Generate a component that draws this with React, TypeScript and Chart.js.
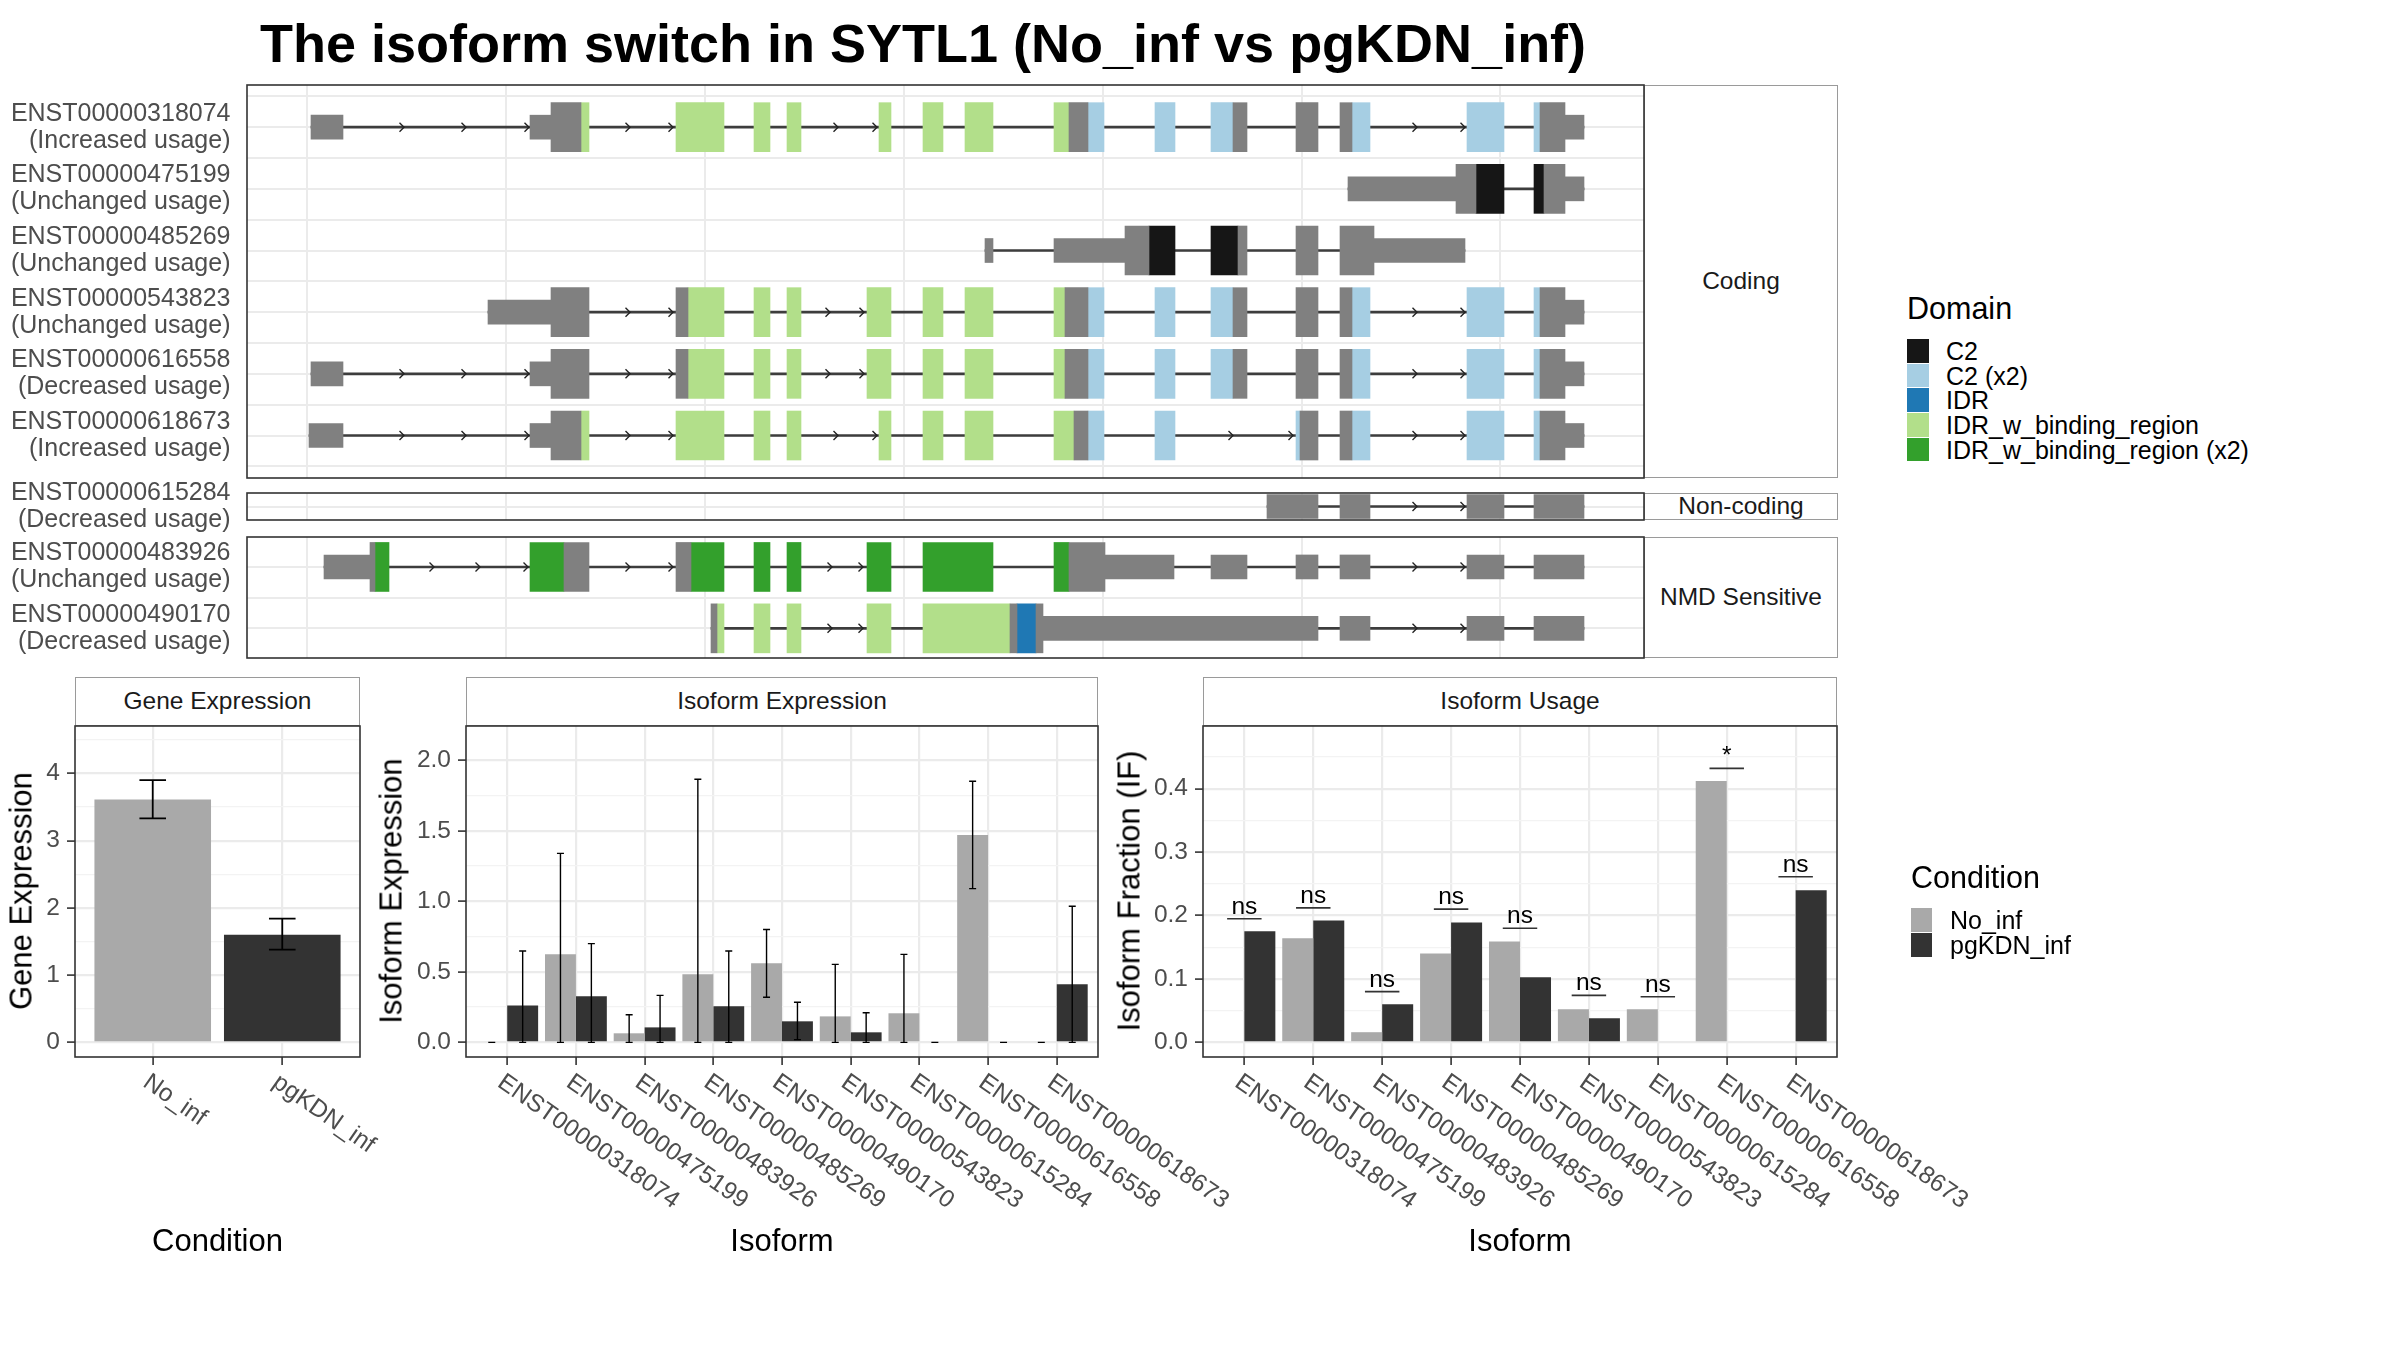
import React, { useEffect, useRef } from 'react';
import { Chart, registerables } from 'chart.js';

Chart.register(...registerables);

const FONT = '"Liberation Sans", Arial, Helvetica, sans-serif';
Chart.defaults.font.family = FONT;

/* ------------------------------------------------------------------ */
/* Transcript structure data (genomic coordinate, arbitrary units)     */
/* ------------------------------------------------------------------ */
type Seg = [number, number, string];

const CODING_IDS = ['ENST00000318074', 'ENST00000475199', 'ENST00000485269', 'ENST00000543823', 'ENST00000616558', 'ENST00000618673'];
const CODING_STATUS = ['(Increased usage)', '(Unchanged usage)', '(Unchanged usage)', '(Unchanged usage)', '(Decreased usage)', '(Increased usage)'];
const NONCODING_IDS = ['ENST00000615284'];
const NONCODING_STATUS = ['(Decreased usage)'];
const NMD_IDS = ['ENST00000483926', 'ENST00000490170'];
const NMD_STATUS = ['(Unchanged usage)', '(Decreased usage)'];

// kinds: u = UTR, c = CDS without domain, others = domain keys
const EXONS_318074: Seg[] = [
  [311, 343, 'u'], [530, 551, 'u'], [551, 581, 'c'], [581, 589, 'IDRb'], [676, 724, 'IDRb'], [754, 770, 'IDRb'],
  [787, 801, 'IDRb'], [879, 891, 'IDRb'], [923, 943, 'IDRb'], [965, 993, 'IDRb'], [1054, 1069, 'IDRb'], [1069, 1088, 'c'],
  [1088, 1104, 'C2x2'], [1155, 1175, 'C2x2'], [1211, 1233, 'C2x2'], [1233, 1247, 'c'], [1296, 1318, 'c'], [1340, 1352, 'c'],
  [1352, 1370, 'C2x2'], [1467, 1504, 'C2x2'], [1534, 1540, 'C2x2'], [1540, 1565, 'c'], [1565, 1584, 'u'],
];
const EXONS_475199: Seg[] = [
  [1348, 1456, 'u'], [1456, 1476, 'c'], [1476, 1504, 'C2'], [1534, 1544, 'C2'], [1544, 1565, 'c'], [1565, 1584, 'u'],
];
const EXONS_485269: Seg[] = [
  [985, 993, 'u'], [1054, 1125, 'u'], [1125, 1149, 'c'], [1149, 1175, 'C2'], [1211, 1238, 'C2'], [1238, 1247, 'c'],
  [1296, 1318, 'c'], [1340, 1374, 'c'], [1374, 1465, 'u'],
];
const EXONS_543823: Seg[] = [
  [488, 551, 'u'], [551, 589, 'c'], [676, 688, 'c'], [688, 724, 'IDRb'], [754, 770, 'IDRb'], [787, 801, 'IDRb'],
  [867, 891, 'IDRb'], [923, 943, 'IDRb'], [965, 993, 'IDRb'], [1054, 1065, 'IDRb'], [1065, 1088, 'c'], [1088, 1104, 'C2x2'],
  [1155, 1175, 'C2x2'], [1211, 1233, 'C2x2'], [1233, 1247, 'c'], [1296, 1318, 'c'], [1340, 1352, 'c'], [1352, 1370, 'C2x2'],
  [1467, 1504, 'C2x2'], [1534, 1540, 'C2x2'], [1540, 1565, 'c'], [1565, 1584, 'u'],
];
const EXONS_616558: Seg[] = [
  [311, 343, 'u'], [530, 551, 'u'], [551, 589, 'c'], [676, 688, 'c'], [688, 724, 'IDRb'], [754, 770, 'IDRb'],
  [787, 801, 'IDRb'], [867, 891, 'IDRb'], [923, 943, 'IDRb'], [965, 993, 'IDRb'], [1054, 1065, 'IDRb'], [1065, 1088, 'c'],
  [1088, 1104, 'C2x2'], [1155, 1175, 'C2x2'], [1211, 1233, 'C2x2'], [1233, 1247, 'c'], [1296, 1318, 'c'], [1340, 1352, 'c'],
  [1352, 1370, 'C2x2'], [1467, 1504, 'C2x2'], [1534, 1540, 'C2x2'], [1540, 1565, 'c'], [1565, 1584, 'u'],
];
const EXONS_618673: Seg[] = [
  [309, 343, 'u'], [530, 551, 'u'], [551, 581, 'c'], [581, 589, 'IDRb'], [676, 724, 'IDRb'], [754, 770, 'IDRb'],
  [787, 801, 'IDRb'], [879, 891, 'IDRb'], [923, 943, 'IDRb'], [965, 993, 'IDRb'], [1054, 1074, 'IDRb'], [1074, 1088, 'c'],
  [1088, 1104, 'C2x2'], [1155, 1175, 'C2x2'], [1296, 1300, 'C2x2'], [1300, 1318, 'c'], [1340, 1352, 'c'], [1352, 1370, 'C2x2'],
  [1467, 1504, 'C2x2'], [1534, 1540, 'C2x2'], [1540, 1565, 'c'], [1565, 1584, 'u'],
];
const EXONS_615284: Seg[] = [
  [1267, 1318, 'u'], [1340, 1370, 'u'], [1467, 1504, 'u'], [1534, 1584, 'u'],
];
const EXONS_483926: Seg[] = [
  [324, 370, 'u'], [370, 375, 'c'], [375, 389, 'IDRb2'], [530, 564, 'IDRb2'], [564, 589, 'c'], [676, 691, 'c'],
  [691, 724, 'IDRb2'], [754, 770, 'IDRb2'], [787, 801, 'IDRb2'], [867, 891, 'IDRb2'], [923, 993, 'IDRb2'], [1054, 1069, 'IDRb2'],
  [1069, 1105, 'c'], [1105, 1174, 'u'], [1211, 1247, 'u'], [1296, 1318, 'u'], [1340, 1370, 'u'], [1467, 1504, 'u'], [1534, 1584, 'u'],
];
const EXONS_490170: Seg[] = [
  [711, 717, 'c'], [717, 724, 'IDRb'], [754, 770, 'IDRb'], [787, 801, 'IDRb'], [867, 891, 'IDRb'], [923, 1010, 'IDRb'],
  [1010, 1017, 'c'], [1017, 1036, 'IDR'], [1036, 1043, 'c'], [1043, 1318, 'u'], [1340, 1370, 'u'], [1467, 1504, 'u'], [1534, 1584, 'u'],
];

// intron direction arrow tips
const ARROWS_318074 = [404, 466, 529, 630, 673, 838, 877, 1417, 1465];
const ARROWS_475199: number[] = [];
const ARROWS_485269: number[] = [];
const ARROWS_543823 = [630, 673, 830, 864, 1417, 1465];
const ARROWS_616558 = [404, 466, 529, 630, 673, 830, 864, 1417, 1465];
const ARROWS_618673 = [404, 466, 529, 630, 673, 838, 877, 1233, 1293, 1417, 1465];
const ARROWS_615284 = [1417, 1465];
const ARROWS_483926 = [434, 480, 528, 630, 673, 832, 863, 1417, 1465];
const ARROWS_490170 = [832, 863, 1417, 1465];

const GENOME_MIN = 247;
const GENOME_MAX = 1644;
const GRID_X = [307, 506, 705, 904, 1103, 1302, 1500];

const DOMAIN_KEYS = ['C2', 'C2x2', 'IDR', 'IDRb', 'IDRb2'];
const DOMAIN_LABELS = ['C2', 'C2 (x2)', 'IDR', 'IDR_w_binding_region', 'IDR_w_binding_region (x2)'];
const DOMAIN_COLORS = ['#161616', '#a6cee3', '#1f78b4', '#b2df8a', '#33a02c'];

/* ------------------------------------------------------------------ */
/* Expression data                                                      */
/* ------------------------------------------------------------------ */
const CONDITIONS = ['No_inf', 'pgKDN_inf'];
const CONDITION_COLORS = ['#a9a9a9', '#333333'];

const GENE_EXP = [3.61, 1.6];
const GENE_EXP_LO = [3.33, 1.38];
const GENE_EXP_HI = [3.9, 1.84];

const ISOFORMS = ['ENST00000318074', 'ENST00000475199', 'ENST00000483926', 'ENST00000485269', 'ENST00000490170',
  'ENST00000543823', 'ENST00000615284', 'ENST00000616558', 'ENST00000618673'];

const ISO_EXP_NOINF = [0, 0.624, 0.064, 0.482, 0.56, 0.184, 0.206, 1.47, 0];
const ISO_EXP_NOINF_LO = [0, 0, 0, 0, 0.32, 0, 0, 1.09, 0];
const ISO_EXP_NOINF_HI = [0, 1.34, 0.196, 1.865, 0.8, 0.553, 0.624, 1.851, 0];
const ISO_EXP_PGKDN = [0.262, 0.326, 0.106, 0.255, 0.149, 0.071, 0, 0, 0.411];
const ISO_EXP_PGKDN_LO = [0, 0, 0, 0, 0.019, 0, 0, 0, 0];
const ISO_EXP_PGKDN_HI = [0.648, 0.7, 0.333, 0.648, 0.284, 0.21, 0, 0, 0.965];

const IF_NOINF = [0, 0.164, 0.016, 0.14, 0.159, 0.052, 0.052, 0.412, 0];
const IF_PGKDN = [0.175, 0.192, 0.06, 0.189, 0.1025, 0.038, 0, 0, 0.24];
const SIG_LABELS = ['ns', 'ns', 'ns', 'ns', 'ns', 'ns', 'ns', '*', 'ns'];
const SIG_Y = [0.195, 0.212, 0.08, 0.21, 0.18, 0.074, 0.072, 0.432, 0.261];

/* ------------------------------------------------------------------ */
/* Styles                                                               */
/* ------------------------------------------------------------------ */
const KIND_COLORS: Record<string, string> = {
  u: '#808080', c: '#808080', C2: DOMAIN_COLORS[0], C2x2: DOMAIN_COLORS[1], IDR: DOMAIN_COLORS[2],
  IDRb: DOMAIN_COLORS[3], IDRb2: DOMAIN_COLORS[4],
};
const KIND_ORDER = ['u', 'c', ...DOMAIN_KEYS];
const THICK = 49;
const THIN = 24;
const GRID_MAJOR = '#ebebeb';
const GRID_MINOR = '#f3f3f3';
const AXIS_TEXT = '#4d4d4d';
const TICK_FONT = 24.5;
const LEGEND_FONT = 25;

const fixSize = (prop: 'width' | 'height', v: number) => (axis: any) => {
  axis[prop] = v;
  axis.paddingLeft = 0;
  axis.paddingRight = 0;
  axis.paddingTop = 0;
  axis.paddingBottom = 0;
};

const panelBorder = {
  id: 'panelBorder',
  afterDraw(chart: any) {
    const { ctx, chartArea: a } = chart;
    ctx.save();
    ctx.strokeStyle = '#333333';
    ctx.lineWidth = 1.6;
    ctx.strokeRect(a.left, a.top, a.right - a.left, a.bottom - a.top);
    ctx.restore();
  },
};

function makeArrows(arrows: number[][]) {
  return {
    id: 'intronArrows',
    afterDatasetsDraw(chart: any) {
      const { ctx, scales } = chart;
      const x = scales.x;
      const y = scales.y;
      ctx.save();
      ctx.strokeStyle = '#222222';
      ctx.lineWidth = 1.4;
      arrows.forEach((list, i) => {
        const py = y.getPixelForValue(i + 1);
        list.forEach((a) => {
          const px = x.getPixelForValue(a);
          ctx.beginPath();
          ctx.moveTo(px - 4.5, py - 4.5);
          ctx.lineTo(px, py);
          ctx.lineTo(px - 4.5, py + 4.5);
          ctx.stroke();
        });
      });
      ctx.restore();
    },
  };
}

function makeErrorBars(sets: { lo: number[]; hi: number[] }[], capHalf: number, lw: number) {
  return {
    id: 'errorBars',
    afterDatasetsDraw(chart: any) {
      const { ctx } = chart;
      const y = chart.scales.y;
      ctx.save();
      ctx.strokeStyle = '#000000';
      ctx.lineWidth = lw;
      sets.forEach((s, d) => {
        const meta = chart.getDatasetMeta(d);
        meta.data.forEach((el: any, j: number) => {
          const x = el.x;
          const y1 = y.getPixelForValue(s.lo[j]);
          const y2 = y.getPixelForValue(s.hi[j]);
          ctx.beginPath();
          ctx.moveTo(x, y1);
          ctx.lineTo(x, y2);
          ctx.moveTo(x - capHalf, y1);
          ctx.lineTo(x + capHalf, y1);
          ctx.moveTo(x - capHalf, y2);
          ctx.lineTo(x + capHalf, y2);
          ctx.stroke();
        });
      });
      ctx.restore();
    },
  };
}

function makeSig(labels: string[], ys: number[]) {
  return {
    id: 'sigMarks',
    afterDatasetsDraw(chart: any) {
      const { ctx } = chart;
      const x = chart.scales.x;
      const y = chart.scales.y;
      ctx.save();
      labels.forEach((lab, i) => {
        const py = y.getPixelForValue(ys[i]);
        const x1 = x.getPixelForValue(i + 1 - 0.25);
        const x2 = x.getPixelForValue(i + 1 + 0.25);
        ctx.strokeStyle = '#333333';
        ctx.lineWidth = 1.6;
        ctx.beginPath();
        ctx.moveTo(x1, py);
        ctx.lineTo(x2, py);
        ctx.stroke();
        ctx.fillStyle = '#000000';
        ctx.font = `${TICK_FONT}px ${FONT}`;
        ctx.textAlign = 'center';
        ctx.textBaseline = 'alphabetic';
        ctx.fillText(lab, (x1 + x2) / 2, py - 5);
      });
      ctx.restore();
    },
  };
}

function makeRotLabels(labels: string[], angle: number, offset: number) {
  return {
    id: 'rotLabels',
    afterDraw(chart: any) {
      const { ctx, chartArea } = chart;
      const x = chart.scales.x;
      ctx.save();
      ctx.font = `${TICK_FONT}px ${FONT}`;
      ctx.fillStyle = AXIS_TEXT;
      ctx.textAlign = 'left';
      ctx.textBaseline = 'top';
      labels.forEach((lab, i) => {
        const px = x.getPixelForValue(i + 1);
        ctx.save();
        ctx.translate(px, chartArea.bottom + offset);
        ctx.rotate((angle * Math.PI) / 180);
        ctx.fillText(lab, 0, 0);
        ctx.restore();
      });
      ctx.restore();
    },
  };
}

/* ------------------------------------------------------------------ */
/* Chart configs                                                        */
/* ------------------------------------------------------------------ */
function transcriptConfig(ids: string[], status: string[], exons: Seg[][], arrows: number[][],
  yMin: number, yMax: number, pad: any) {
  const n = ids.length;
  const datasets: any[] = [
    {
      data: exons.map((ex, i) => ({ x: [ex[0][0], ex[ex.length - 1][1]], y: i + 1 })),
      backgroundColor: '#3d3d3d',
      barThickness: 2,
      grouped: false,
      indexAxis: 'y',
      order: 10,
    },
  ];
  KIND_ORDER.forEach((k) => {
    const data: any[] = [];
    exons.forEach((ex, i) => ex.forEach((s) => { if (s[2] === k) data.push({ x: [s[0], s[1]], y: i + 1 }); }));
    if (data.length) {
      datasets.push({
        data,
        backgroundColor: KIND_COLORS[k],
        barThickness: k === 'u' ? THIN : THICK,
        grouped: false,
        indexAxis: 'y',
        order: 1,
      });
    }
  });
  return {
    type: 'bar',
    data: { datasets },
    options: {
      indexAxis: 'y',
      responsive: true,
      maintainAspectRatio: false,
      animation: false,
      events: [],
      layout: { padding: pad, autoPadding: false },
      plugins: { legend: { display: false }, tooltip: { enabled: false } },
      scales: {
        x: {
          type: 'linear', min: GENOME_MIN, max: GENOME_MAX, offset: false,
          afterBuildTicks: (a: any) => { a.ticks = GRID_X.map((v) => ({ value: v })); },
          ticks: { display: false },
          grid: { color: GRID_MAJOR, lineWidth: 2, drawTicks: false, offset: false },
          border: { display: false },
          afterFit: fixSize('height', 0),
        },
        y: {
          type: 'linear', min: yMin, max: yMax, reverse: true, offset: false,
          afterBuildTicks: (a: any) => {
            const t: any[] = [];
            for (let k = 1; k <= 2 * n + 1; k++) {
              const v = k / 2;
              if (v >= yMin && v <= yMax) t.push({ value: v });
            }
            a.ticks = t;
          },
          ticks: {
            autoSkip: false,
            color: AXIS_TEXT,
            padding: 16.5,
            font: { size: 25, lineHeight: 1.08 },
            callback: (v: number) => (Number.isInteger(v) && v >= 1 && v <= n ? [ids[v - 1], status[v - 1]] : ''),
          },
          grid: { color: GRID_MAJOR, lineWidth: 2, drawTicks: false, offset: false },
          border: { display: false },
          afterFit: fixSize('width', GENOME_MIN),
        },
      },
    },
    plugins: [makeArrows(arrows), panelBorder],
  };
}

function yAxisNum(min: number, max: number, major: number, minor: number, decimals: number, width: number) {
  const isMajor = (v: number) => Math.abs(v / major - Math.round(v / major)) < 1e-6;
  return {
    type: 'linear', min, max,
    afterBuildTicks: (a: any) => {
      const t: any[] = [];
      for (let k = Math.ceil(min / minor - 1e-9); k * minor <= max + 1e-9; k++) t.push({ value: +(k * minor).toFixed(6) });
      a.ticks = t;
    },
    ticks: {
      autoSkip: false, color: AXIS_TEXT, padding: 7, font: { size: TICK_FONT },
      callback: (v: number) => (isMajor(v) ? Number(v).toFixed(decimals) : ''),
    },
    grid: {
      color: (c: any) => (isMajor(c.tick.value) ? GRID_MAJOR : GRID_MINOR),
      lineWidth: (c: any) => (isMajor(c.tick.value) ? 2.2 : 1.2),
      tickLength: 8,
      tickColor: (c: any) => (isMajor(c.tick.value) ? '#333333' : 'rgba(0,0,0,0)'),
      tickWidth: 1.6,
    },
    border: { display: false },
    afterFit: fixSize('width', width),
  };
}

function xAxisCat(n: number, height: number) {
  return {
    type: 'linear', min: 0.4, max: n + 0.6, offset: false,
    afterBuildTicks: (a: any) => { a.ticks = Array.from({ length: n }, (_, i) => ({ value: i + 1 })); },
    ticks: { display: false },
    grid: { color: GRID_MAJOR, lineWidth: 2.2, offset: false, tickLength: 8, tickColor: '#333333', tickWidth: 1.6 },
    border: { display: false },
    afterFit: fixSize('height', height),
  };
}

const baseOptions = (pad: any) => ({
  responsive: true,
  maintainAspectRatio: false,
  animation: false,
  events: [],
  layout: { padding: pad, autoPadding: false },
  plugins: { legend: { display: false }, tooltip: { enabled: false } },
});

function geneConfig() {
  return {
    type: 'bar',
    data: {
      datasets: [{
        data: GENE_EXP.map((v, i) => ({ x: i + 1, y: v })),
        backgroundColor: CONDITION_COLORS,
        borderWidth: 0,
        barPercentage: 1,
        categoryPercentage: 0.9,
      }],
    },
    options: {
      ...baseOptions({ top: 2, right: 40, bottom: 0, left: 0 }),
      scales: { x: xAxisCat(CONDITIONS.length, 173), y: yAxisNum(-0.218, 4.705, 1, 0.5, 0, 75) },
    },
    plugins: [makeErrorBars([{ lo: GENE_EXP_LO, hi: GENE_EXP_HI }], 13.3, 1.8), makeRotLabels(CONDITIONS, 35, 13), panelBorder],
  };
}

function isoExpConfig() {
  return {
    type: 'bar',
    data: {
      datasets: [
        { data: ISO_EXP_NOINF.map((v, i) => ({ x: i + 1, y: v })), backgroundColor: CONDITION_COLORS[0], borderWidth: 0, barPercentage: 1, categoryPercentage: 0.9 },
        { data: ISO_EXP_PGKDN.map((v, i) => ({ x: i + 1, y: v })), backgroundColor: CONDITION_COLORS[1], borderWidth: 0, barPercentage: 1, categoryPercentage: 0.9 },
      ],
    },
    options: {
      ...baseOptions({ top: 2, right: 162, bottom: 0, left: 0 }),
      scales: { x: xAxisCat(ISOFORMS.length, 173), y: yAxisNum(-0.104, 2.243, 0.5, 0.25, 1, 66) },
    },
    plugins: [
      makeErrorBars([{ lo: ISO_EXP_NOINF_LO, hi: ISO_EXP_NOINF_HI }, { lo: ISO_EXP_PGKDN_LO, hi: ISO_EXP_PGKDN_HI }], 3.5, 1.4),
      makeRotLabels(ISOFORMS, 35, 13),
      panelBorder,
    ],
  };
}

function isoUsageConfig() {
  return {
    type: 'bar',
    data: {
      datasets: [
        { data: IF_NOINF.map((v, i) => ({ x: i + 1, y: v })), backgroundColor: CONDITION_COLORS[0], borderWidth: 0, barPercentage: 1, categoryPercentage: 0.9 },
        { data: IF_PGKDN.map((v, i) => ({ x: i + 1, y: v })), backgroundColor: CONDITION_COLORS[1], borderWidth: 0, barPercentage: 1, categoryPercentage: 0.9 },
      ],
    },
    options: {
      ...baseOptions({ top: 2, right: 163, bottom: 0, left: 0 }),
      scales: { x: xAxisCat(ISOFORMS.length, 173), y: yAxisNum(-0.0231, 0.4988, 0.1, 0.05, 1, 63) },
    },
    plugins: [makeSig(SIG_LABELS, SIG_Y), makeRotLabels(ISOFORMS, 35, 13), panelBorder],
  };
}

/* ------------------------------------------------------------------ */
/* Components                                                           */
/* ------------------------------------------------------------------ */
function ChartBox({ left, top, width, height, make }: { left: number; top: number; width: number; height: number; make: () => any }) {
  const ref = useRef<HTMLCanvasElement>(null);
  useEffect(() => {
    const chart = new Chart(ref.current as HTMLCanvasElement, make());
    return () => chart.destroy();
  }, []);
  return (
    <div style={{ position: 'absolute', left, top, width, height }}>
      <canvas ref={ref} />
    </div>
  );
}

function Strip({ left, top, width, height, text }: { left: number; top: number; width: number; height: number; text: string }) {
  return (
    <div style={{
      position: 'absolute', left, top, width, height, boxSizing: 'border-box', border: '1.5px solid #9a9a9a',
      background: '#fff', display: 'flex', alignItems: 'center', justifyContent: 'center',
      fontSize: TICK_FONT, color: '#1a1a1a', whiteSpace: 'nowrap', lineHeight: 1,
    }}>{text}</div>
  );
}

function Label({ x, y, text, size, rotate, anchor, bold, color }: { x: number; y: number; text: string; size: number; rotate?: boolean; anchor?: 'left' | 'center'; bold?: boolean; color?: string }) {
  const tx = anchor === 'left' ? '0' : '-50%';
  return (
    <div style={{
      position: 'absolute', left: x, top: y, fontSize: size, lineHeight: 1, whiteSpace: 'nowrap',
      color: color || '#000', fontWeight: bold ? 'bold' : 'normal',
      transform: `translate(${tx}, -50%)${rotate ? ' rotate(-90deg)' : ''}`,
      transformOrigin: rotate ? 'center center' : undefined,
    }}>{text}</div>
  );
}

export default function App() {
  const codingExons = [EXONS_318074, EXONS_475199, EXONS_485269, EXONS_543823, EXONS_616558, EXONS_618673];
  const codingArrows = [ARROWS_318074, ARROWS_475199, ARROWS_485269, ARROWS_543823, ARROWS_616558, ARROWS_618673];
  const ncExons = [EXONS_615284];
  const ncArrows = [ARROWS_615284];
  const nmdExons = [EXONS_483926, EXONS_490170];
  const nmdArrows = [ARROWS_483926, ARROWS_490170];

  return (
    <div style={{ position: 'fixed', left: 0, top: 0, width: 2400, height: 1350, background: '#fff', fontFamily: FONT, overflow: 'hidden' }}>
      <Label x={260} y={43} text="The isoform switch in SYTL1 (No_inf vs pgKDN_inf)" size={54} bold anchor="left" />

      {/* facet strips */}
      <Strip left={1644} top={85} width={194} height={393} text="Coding" />
      <Strip left={1644} top={493} width={194} height={27} text="Non-coding" />
      <Strip left={1644} top={537} width={194} height={121} text="NMD Sensitive" />
      <Strip left={75} top={677} width={285} height={49} text="Gene Expression" />
      <Strip left={466} top={677} width={632} height={49} text="Isoform Expression" />
      <Strip left={1203} top={677} width={634} height={49} text="Isoform Usage" />

      {/* transcript panels */}
      <ChartBox left={0} top={83} width={1647} height={397}
        make={() => transcriptConfig(CODING_IDS, CODING_STATUS, codingExons, codingArrows, 0.316, 6.689, { top: 2, right: 3, bottom: 2, left: 0 })} />
      <ChartBox left={0} top={471} width={1647} height={72}
        make={() => transcriptConfig(NONCODING_IDS, NONCODING_STATUS, ncExons, ncArrows, 0.783, 1.217, { top: 22, right: 3, bottom: 23, left: 0 })} />
      <ChartBox left={0} top={535} width={1647} height={125}
        make={() => transcriptConfig(NMD_IDS, NMD_STATUS, nmdExons, nmdArrows, 0.512, 2.483, { top: 2, right: 3, bottom: 2, left: 0 })} />

      {/* expression panels */}
      <ChartBox left={0} top={724} width={400} height={506} make={geneConfig} />
      <ChartBox left={400} top={724} width={860} height={506} make={isoExpConfig} />
      <ChartBox left={1140} top={724} width={860} height={506} make={isoUsageConfig} />

      {/* axis titles */}
      <Label x={21} y={891} text="Gene Expression" size={31} rotate />
      <Label x={391} y={891} text="Isoform Expression" size={31} rotate />
      <Label x={1129} y={891} text="Isoform Fraction (IF)" size={31} rotate />
      <Label x={217.5} y={1240} text="Condition" size={31} />
      <Label x={782} y={1240} text="Isoform" size={31} />
      <Label x={1520} y={1240} text="Isoform" size={31} />

      {/* Domain legend */}
      <Label x={1907} y={308} text="Domain" size={30.5} anchor="left" />
      {DOMAIN_LABELS.map((lab, i) => (
        <React.Fragment key={lab}>
          <div style={{ position: 'absolute', left: 1907, top: 339 + i * 24.7, width: 22, height: 23.7, background: DOMAIN_COLORS[i] }} />
          <Label x={1946} y={339 + i * 24.7 + 12} text={lab} size={LEGEND_FONT} anchor="left" />
        </React.Fragment>
      ))}

      {/* Condition legend */}
      <Label x={1911} y={877} text="Condition" size={30.5} anchor="left" />
      {CONDITIONS.map((lab, i) => (
        <React.Fragment key={lab}>
          <div style={{ position: 'absolute', left: 1911, top: 908 + i * 25, width: 21, height: 24, background: CONDITION_COLORS[i] }} />
          <Label x={1950} y={908 + i * 25 + 12} text={lab} size={LEGEND_FONT} anchor="left" />
        </React.Fragment>
      ))}
    </div>
  );
}
